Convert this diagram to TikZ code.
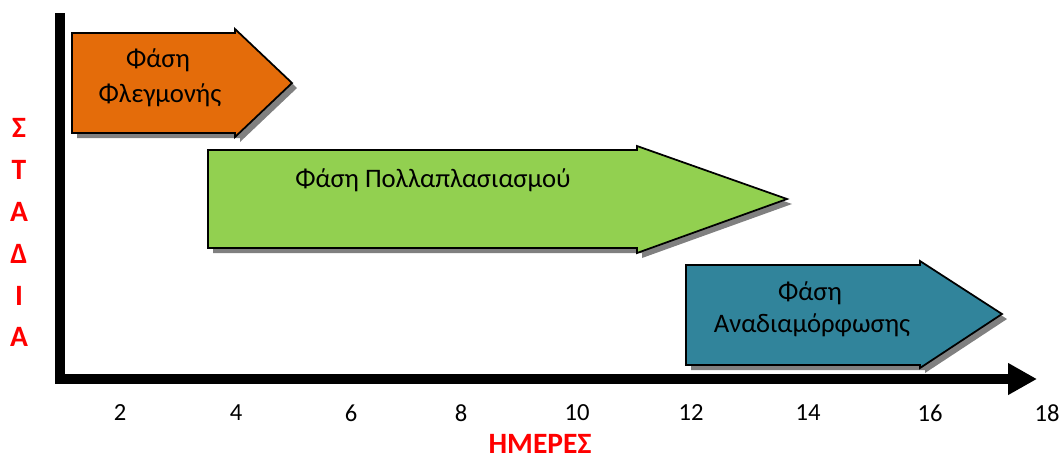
\documentclass[tikz,border=0pt]{standalone}
\usepackage{fontspec}
\setmainfont{Carlito}
\usetikzlibrary{arrows.meta}

\definecolor{phaseorange}{HTML}{E46C0A}
\definecolor{phasegreen}{HTML}{92D050}
\definecolor{phaseteal}{HTML}{31849B}
\definecolor{shadowgray}{HTML}{808080}
\definecolor{labelred}{HTML}{FF0000}

\tikzset{
  phase/.style={draw=black, line width=1pt, line join=miter},
  shadow/.style={fill=shadowgray, shift={(5,5)}},
  phasetext/.style={font=\fontsize{15.2}{17}\selectfont, align=center},
  axis/.style={line width=0.2cm},
  ticklabel/.style={font=\fontsize{14}{16}\selectfont},
  axislabel/.style={font=\fontsize{16.8}{19}\selectfont\bfseries, text=labelred, inner sep=1pt}
}

\begin{document}
\begin{tikzpicture}[x=0.02cm,y=-0.02cm]
\useasboundingbox (0,0) rectangle (1061,458);

% Phase 1: Orange
\fill[shadow] (72,33) -- (235,33) -- (235,29) -- (292,83) -- (235,137) -- (235,133) -- (72,133) -- cycle;
\path[phase, fill=phaseorange] (72,33) -- (235,33) -- (235,29) -- (292,83) -- (235,137) -- (235,133) -- (72,133) -- cycle;
\node[phasetext] (flegmoni1) at (158,60) {Φάση};
\node[phasetext] (flegmoni2) at (160,95) {Φλεγμονής};

% Phase 2: Green
\fill[shadow] (208,150) -- (637,150) -- (637,146) -- (787,199) -- (637,253) -- (637,248) -- (208,248) -- cycle;
\path[phase, fill=phasegreen] (208,150) -- (637,150) -- (637,146) -- (787,199) -- (637,253) -- (637,248) -- (208,248) -- cycle;
\node[phasetext] (pollaplasiasmos) at (433,180) {Φάση Πολλαπλασιασμού};

% Phase 3: Teal
\fill[shadow] (686,265) -- (920,265) -- (920,261) -- (1002,314) -- (920,368) -- (920,365) -- (686,365) -- cycle;
\path[phase, fill=phaseteal] (686,265) -- (920,265) -- (920,261) -- (1002,314) -- (920,368) -- (920,365) -- (686,365) -- cycle;
\node[phasetext] (anadiamorfosi1) at (810,293) {Φάση};
\node[phasetext] (anadiamorfosi2) at (812,325) {Αναδιαμόρφωσης};

% Axes
\draw[axis] (60,13) -- (60,384);
\draw[axis, -{Triangle[length=0.58cm, width=0.6cm]}] (55,379) -- (1037,379);

% Day labels
\foreach \d/\x in {2/120, 4/236, 6/351, 8/461, 10/577, 12/691, 14/808, 16/930, 18/1047}
{
\node[ticklabel] (tick\d) at (\x,413) {\d};
}
\node[axislabel, anchor=base] (hmeres) at (540,453) {ΗΜΕΡΕΣ};

% Stage letters
\foreach \l/\y [count=\i] in {Σ/128, Τ/170, Α/212, Δ/254, Ι/296, Α/337}
{
\node[axislabel] (stadia\i) at (19,\y) {\l};
}

\end{tikzpicture}
\end{document}
